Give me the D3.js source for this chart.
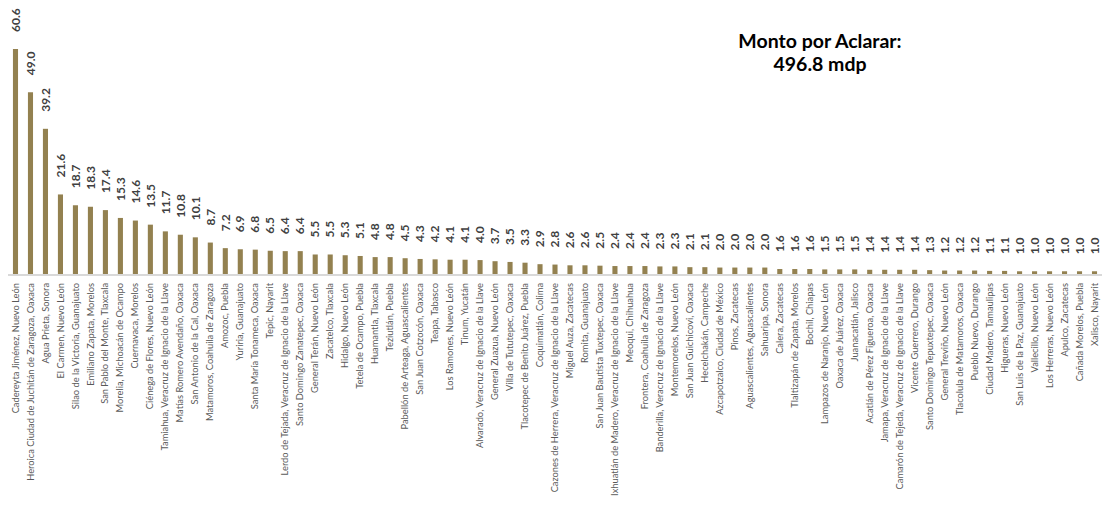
<!DOCTYPE html>
<html>
<head>
<meta charset="utf-8">
<script src="https://cdn.jsdelivr.net/npm/d3@7"></script>
<style>
  body { margin: 0; background: #fff; }
  svg { display: block; }
</style>
</head>
<body>
<div id="chart"></div>
<script>
const municipios = [
  "Cadereyta Jiménez, Nuevo León",
  "Heroica Ciudad de Juchitán de Zaragoza, Oaxaca",
  "Agua Prieta, Sonora",
  "El Carmen, Nuevo León",
  "Silao de la Victoria, Guanajuato",
  "Emiliano Zapata, Morelos",
  "San Pablo del Monte, Tlaxcala",
  "Morelia, Michoacán de Ocampo",
  "Cuernavaca, Morelos",
  "Ciénega de Flores, Nuevo León",
  "Tamiahua, Veracruz de Ignacio de la Llave",
  "Matías Romero Avendaño, Oaxaca",
  "San Antonio de la Cal, Oaxaca",
  "Matamoros, Coahuila de Zaragoza",
  "Amozoc, Puebla",
  "Yuriria, Guanajuato",
  "Santa María Tonameca, Oaxaca",
  "Tepic, Nayarit",
  "Lerdo de Tejada, Veracruz de Ignacio de la Llave",
  "Santo Domingo Zanatepec, Oaxaca",
  "General Terán, Nuevo León",
  "Zacatelco, Tlaxcala",
  "Hidalgo, Nuevo León",
  "Tetela de Ocampo, Puebla",
  "Huamantla, Tlaxcala",
  "Teziutlán, Puebla",
  "Pabellón de Arteaga, Aguascalientes",
  "San Juan Cotzocón, Oaxaca",
  "Teapa, Tabasco",
  "Los Ramones, Nuevo León",
  "Tinum, Yucatán",
  "Alvarado, Veracruz de Ignacio de la Llave",
  "General Zuazua, Nuevo León",
  "Villa de Tututepec, Oaxaca",
  "Tlacotepec de Benito Juárez, Puebla",
  "Coquimatlán, Colima",
  "Cazones de Herrera, Veracruz de Ignacio de la Llave",
  "Miguel Auza, Zacatecas",
  "Romita, Guanajuato",
  "San Juan Bautista Tuxtepec, Oaxaca",
  "Ixhuatlán de Madero, Veracruz de Ignacio de la Llave",
  "Meoqui, Chihuahua",
  "Frontera, Coahuila de Zaragoza",
  "Banderilla, Veracruz de Ignacio de la Llave",
  "Montemorelos, Nuevo León",
  "San Juan Guichicovi, Oaxaca",
  "Hecelchakán, Campeche",
  "Azcapotzalco, Ciudad de México",
  "Pinos, Zacatecas",
  "Aguascalientes, Aguascalientes",
  "Sahuaripa, Sonora",
  "Calera, Zacatecas",
  "Tlaltizapán de Zapata, Morelos",
  "Bochil, Chiapas",
  "Lampazos de Naranjo, Nuevo León",
  "Oaxaca de Juárez, Oaxaca",
  "Juanacatlán, Jalisco",
  "Acatlán de Pérez Figueroa, Oaxaca",
  "Jamapa, Veracruz de Ignacio de la Llave",
  "Camarón de Tejeda, Veracruz de Ignacio de la Llave",
  "Vicente Guerrero, Durango",
  "Santo Domingo Tepuxtepec, Oaxaca",
  "General Treviño, Nuevo León",
  "Tlacolula de Matamoros, Oaxaca",
  "Pueblo Nuevo, Durango",
  "Ciudad Madero, Tamaulipas",
  "Higueras, Nuevo León",
  "San Luis de la Paz, Guanajuato",
  "Vallecillo, Nuevo León",
  "Los Herreras, Nuevo León",
  "Apulco, Zacatecas",
  "Cañada Morelos, Puebla",
  "Xalisco, Nayarit"
];

const montos = [
  60.6, 49.0, 39.2, 21.6, 18.7, 18.3, 17.4, 15.3, 14.6, 13.5,
  11.7, 10.8, 10.1, 8.7, 7.2, 6.9, 6.8, 6.5, 6.4, 6.4,
  5.5, 5.5, 5.3, 5.1, 4.8, 4.8, 4.5, 4.3, 4.2, 4.1,
  4.1, 4.0, 3.7, 3.5, 3.3, 2.9, 2.8, 2.6, 2.6, 2.5,
  2.4, 2.4, 2.4, 2.3, 2.3, 2.1, 2.1, 2.0, 2.0, 2.0,
  2.0, 1.6, 1.6, 1.6, 1.5, 1.5, 1.5, 1.4, 1.4, 1.4,
  1.4, 1.3, 1.2, 1.2, 1.2, 1.1, 1.1, 1.0, 1.0, 1.0,
  1.0, 1.0, 1.0
];

const titulo = ["Monto por Aclarar:", "496.8 mdp"];

const width = 1104, height = 506;
const baseY = 275;

const data = municipios.map((m, i) => ({ name: m, value: montos[i] }));

const svg = d3.select("#chart")
  .append("svg")
  .attr("width", width)
  .attr("height", height);

const x = d3.scaleBand()
  .domain(municipios)
  .range([8, 1102])
  .paddingInner(0.66)
  .paddingOuter(0.33);

const y = d3.scaleLinear()
  .domain([0, d3.max(montos)])
  .range([baseY, 49]);

// bars
svg.append("g")
  .selectAll("rect")
  .data(data)
  .join("rect")
  .attr("x", d => x(d.name))
  .attr("y", d => y(d.value))
  .attr("width", x.bandwidth())
  .attr("height", d => baseY - y(d.value))
  .attr("fill", "#938150");

// axis line + category labels
const xAxis = svg.append("g")
  .attr("transform", `translate(0,${baseY})`)
  .call(d3.axisBottom(x).tickSize(0).tickPadding(0));

xAxis.select(".domain")
  .attr("d", "M8,0H1102")
  .attr("stroke", "#d9d9d9")
  .attr("stroke-width", 2);

xAxis.selectAll(".tick text")
  .attr("transform", "rotate(-90)")
  .attr("x", -8)
  .attr("y", 0)
  .attr("dy", "0.33em")
  .attr("text-anchor", "end")
  .style("font-family", "Lato, 'Open Sans', sans-serif")
  .style("font-size", "9.3px")
  .attr("fill", "#595959");

// value labels
svg.append("g")
  .selectAll("text")
  .data(data)
  .join("text")
  .attr("transform", d => `translate(${x(d.name) + x.bandwidth() / 2},${y(d.value) - 17}) rotate(-90)`)
  .attr("dy", "0.35em")
  .attr("text-anchor", "start")
  .style("font-family", "Lato, 'Open Sans', sans-serif")
  .style("font-size", "12px")
  .style("font-weight", "bold")
  .attr("fill", "#404040")
  .text(d => d.value.toFixed(1));

// title
svg.append("g")
  .selectAll("text")
  .data(titulo)
  .join("text")
  .attr("x", 820)
  .attr("y", (d, i) => 48 + i * 23)
  .attr("text-anchor", "middle")
  .style("font-family", "Lato, 'Open Sans', sans-serif")
  .style("font-size", "19.5px")
  .style("font-weight", "bold")
  .attr("fill", "#000")
  .text(d => d);
</script>
</body>
</html>
